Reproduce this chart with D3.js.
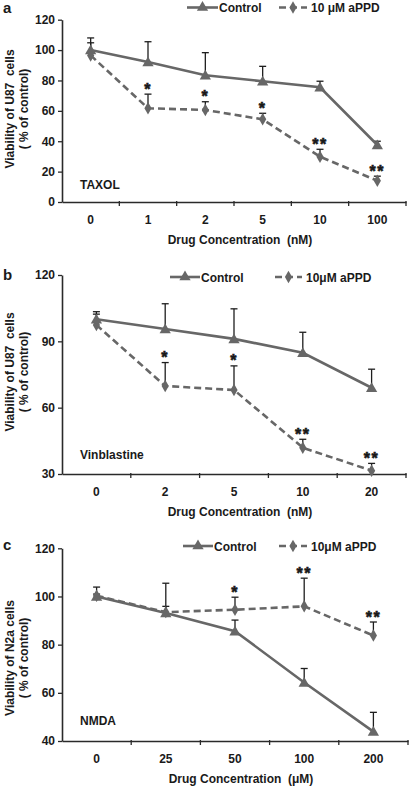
<!DOCTYPE html>
<html>
<head>
<meta charset="utf-8">
<script src="https://cdn.jsdelivr.net/npm/d3@7"></script>
<style>
  html, body { margin: 0; padding: 0; background: #fff; }
  svg { display: block; }
  text { font-family: "Liberation Sans", Arial, sans-serif; font-weight: bold; fill: #1a1a1a; white-space: pre; }
</style>
</head>
<body>
<svg id="chart" width="414" height="788"></svg>
<script>
// ---------- DATA ----------
// Panel a: TAXOL
const catsA = ["0", "1", "2", "5", "10", "100"];
const controlA = [100, 92.2, 83.4, 79.5, 75.5, 37.5];
const controlErrTopA = [108, 105.5, 98.3, 89.3, 79.5, 40];
const appdA = [96.5, 61.7, 60.6, 54.4, 29.8, 14];
const appdErrTopA = [104.8, 71, 66, 58.4, 34.7, 17];
const starsA = ["", "*", "*", "*", "**", "**"];
const yTicksA = [0, 20, 40, 60, 80, 100, 120];

// Panel b: Vinblastine
const catsB = ["0", "2", "5", "10", "20"];
const controlB = [100, 95.6, 91.1, 84.8, 69];
const controlErrTopB = [103.4, 107, 104.7, 94.1, 77.4];
const appdB = [97.4, 69.8, 68, 41.9, 31.5];
const appdErrTopB = [102.3, 80.4, 78.9, 45.7, 34.8];
const starsB = ["", "*", "*", "**", "**"];
const yTicksB = [30, 60, 90, 120];

// Panel c: NMDA
const catsC = ["0", "25", "50", "100", "200"];
const controlC = [100, 93.1, 85.6, 64.3, 43.9];
const controlErrTopC = [103.9, 105.5, 90.2, 70.1, 51.9];
const appdC = [100.3, 93.5, 94.5, 95.9, 83.8];
const appdErrTopC = [101, 95.9, 99.7, 107.6, 89.4];
const starsC = ["", "", "*", "**", "**"];
const yTicksC = [40, 60, 80, 100, 120];

// ---------- DRAWING ----------
const svg = d3.select("#chart");
const lineColor = "#676767";
const axisColor = "#2a2a2a";

function drawPanel(cfg) {
  const g = svg.append("g");
  const x = d3.scaleBand().domain(cfg.cats).range([cfg.x0, cfg.x1]).padding(0);
  const y = d3.scaleLinear().domain(cfg.yDomain).range([cfg.yBottom, cfg.yTop]);
  const cx = c => x(c) + x.bandwidth() / 2;

  // y axis
  const yAxis = d3.axisLeft(y).tickValues(cfg.yTicks).tickSize(4).tickPadding(3).tickSizeOuter(0);
  const ya = g.append("g").attr("transform", `translate(${cfg.x0},0)`).call(yAxis);
  ya.select(".domain").attr("stroke", axisColor).attr("stroke-width", 1.6);
  ya.selectAll(".tick line").attr("stroke", axisColor).attr("stroke-width", 1.3);
  ya.selectAll(".tick text").attr("font-size", 12).attr("font-family", "Liberation Sans, Arial").attr("font-weight", "bold").attr("fill", "#1a1a1a");

  // x axis (labels centered in bands, ticks at band boundaries)
  const xAxis = d3.axisBottom(x).tickSize(0).tickPadding(13).tickSizeOuter(0);
  const xa = g.append("g").attr("transform", `translate(0,${cfg.yBottom})`).call(xAxis);
  xa.select(".domain").attr("stroke", axisColor).attr("stroke-width", 1.6);
  xa.selectAll(".tick text").attr("font-size", 12).attr("font-family", "Liberation Sans, Arial").attr("font-weight", "bold").attr("fill", "#1a1a1a");
  const bounds = cfg.cats.map(c => x(c)).concat([x(cfg.cats[cfg.cats.length - 1]) + x.bandwidth()]);
  g.selectAll(".xb").data(bounds.slice(1)).enter().append("line")
    .attr("x1", d => d).attr("x2", d => d)
    .attr("y1", cfg.yBottom - 1).attr("y2", cfg.yBottom + 4)
    .attr("stroke", axisColor).attr("stroke-width", 1.3);

  // axis titles
  g.append("text").attr("x", (cfg.x0 + cfg.x1) / 2 + 6).attr("y", cfg.yBottom + 42)
    .attr("text-anchor", "middle").attr("font-size", 12).text(cfg.xTitle);
  const ymid = cfg.yTitleMid;
  g.append("text").attr("transform", `translate(14,${ymid}) rotate(-90)`)
    .attr("text-anchor", "middle").attr("font-size", 12).text(cfg.yTitle1);
  g.append("text").attr("transform", `translate(28,${ymid}) rotate(-90)`)
    .attr("text-anchor", "middle").attr("font-size", 12).text(cfg.yTitle2);

  // panel letter and drug label
  g.append("text").attr("x", 3).attr("y", cfg.letterY).attr("font-size", 15).text(cfg.letter);
  g.append("text").attr("x", cfg.x0 + 18).attr("y", cfg.drugY).attr("font-size", 12).text(cfg.drug);

  // error bars
  function errBars(vals, tops) {
    cfg.cats.forEach((c, i) => {
      const px = cx(c);
      g.append("line").attr("x1", px).attr("x2", px).attr("y1", y(vals[i])).attr("y2", y(tops[i]))
        .attr("stroke", "#1e1e1e").attr("stroke-width", 1.3);
      g.append("line").attr("x1", px - 3.5).attr("x2", px + 3.5).attr("y1", y(tops[i])).attr("y2", y(tops[i]))
        .attr("stroke", "#1e1e1e").attr("stroke-width", 1.3);
    });
  }
  errBars(cfg.control, cfg.controlTop);
  errBars(cfg.appd, cfg.appdTop);

  const line = d3.line().x((d, i) => cx(cfg.cats[i])).y(d => y(d));
  g.append("path").datum(cfg.appd).attr("d", line).attr("fill", "none")
    .attr("stroke", lineColor).attr("stroke-width", 2.6).attr("stroke-dasharray", "7,4");
  g.append("path").datum(cfg.control).attr("d", line).attr("fill", "none")
    .attr("stroke", lineColor).attr("stroke-width", 2.6);

  const tri = d3.symbol().type(d3.symbolTriangle).size(55);
  const dia = d3.symbol().type(d3.symbolDiamond).size(45);
  g.selectAll(".ma").data(cfg.appd).enter().append("path")
    .attr("d", dia).attr("transform", (d, i) => `translate(${cx(cfg.cats[i])},${y(d)})`).attr("fill", lineColor);
  g.selectAll(".mc").data(cfg.control).enter().append("path")
    .attr("d", tri).attr("transform", (d, i) => `translate(${cx(cfg.cats[i])},${y(d) + 1})`).attr("fill", lineColor);

  // significance stars
  cfg.stars.forEach((s, i) => {
    if (!s) return;
    const top = Math.min(y(cfg.appdTop[i]), y(cfg.appd[i]) - 4);
    g.append("text").attr("x", cx(cfg.cats[i])).attr("y", top + 0.5)
      .attr("text-anchor", "middle").attr("font-size", 16).attr("stroke", "#1a1a1a").attr("stroke-width", 0.6)
      .attr("letter-spacing", 1.5).text(s);
  });

  // legend
  const L = cfg.legend;
  g.append("line").attr("x1", L.sx1).attr("x2", L.sx2).attr("y1", L.y).attr("y2", L.y)
    .attr("stroke", lineColor).attr("stroke-width", 2.6);
  g.append("path").attr("d", tri).attr("transform", `translate(${(L.sx1 + L.sx2) / 2},${L.y})`).attr("fill", lineColor);
  g.append("text").attr("x", L.sx2 + 1).attr("y", L.y + 4.5).attr("font-size", 12).text("Control");
  g.append("line").attr("x1", L.dx1).attr("x2", L.dx2).attr("y1", L.y).attr("y2", L.y)
    .attr("stroke", lineColor).attr("stroke-width", 2.6).attr("stroke-dasharray", "7,4");
  g.append("path").attr("d", dia).attr("transform", `translate(${(L.dx1 + L.dx2) / 2},${L.y})`).attr("fill", lineColor);
  g.append("text").attr("x", L.dx2 + 4).attr("y", L.y + 4.5).attr("font-size", 12).text(L.label);
}

drawPanel({
  cats: catsA, control: controlA, controlTop: controlErrTopA, appd: appdA, appdTop: appdErrTopA,
  stars: starsA, yTicks: yTicksA, yDomain: [0, 120],
  x0: 62, x1: 406, yBottom: 202, yTop: 19.7,
  xTitle: "Drug Concentration  (nM)", yTitle1: "Viability of U87  cells", yTitle2: "( % of control)",
  yTitleMid: 109, letter: "a", letterY: 13, drug: "TAXOL", drugY: 189,
  legend: { y: 7.5, sx1: 187, sx2: 218, dx1: 279, dx2: 307, label: "10 μM aPPD" }
});
drawPanel({
  cats: catsB, control: controlB, controlTop: controlErrTopB, appd: appdB, appdTop: appdErrTopB,
  stars: starsB, yTicks: yTicksB, yDomain: [30, 120],
  x0: 62, x1: 406, yBottom: 474, yTop: 275,
  xTitle: "Drug Concentration  (nM)", yTitle1: "Viability of U87  cells", yTitle2: "( % of control)",
  yTitleMid: 372, letter: "b", letterY: 280, drug: "Vinblastine", drugY: 459,
  legend: { y: 277, sx1: 170, sx2: 200, dx1: 275, dx2: 302, label: "10μM aPPD" }
});
drawPanel({
  cats: catsC, control: controlC, controlTop: controlErrTopC, appd: appdC, appdTop: appdErrTopC,
  stars: starsC, yTicks: yTicksC, yDomain: [40, 120],
  x0: 62, x1: 408, yBottom: 741, yTop: 548.3,
  xTitle: "Drug Concentration  (μM)", yTitle1: "Viability of N2a cells", yTitle2: "( % of control)",
  yTitleMid: 658, letter: "c", letterY: 550, drug: "NMDA", drugY: 725,
  legend: { y: 546, sx1: 183, sx2: 213, dx1: 279, dx2: 307, label: "10μM aPPD" }
});
</script>
</body>
</html>
